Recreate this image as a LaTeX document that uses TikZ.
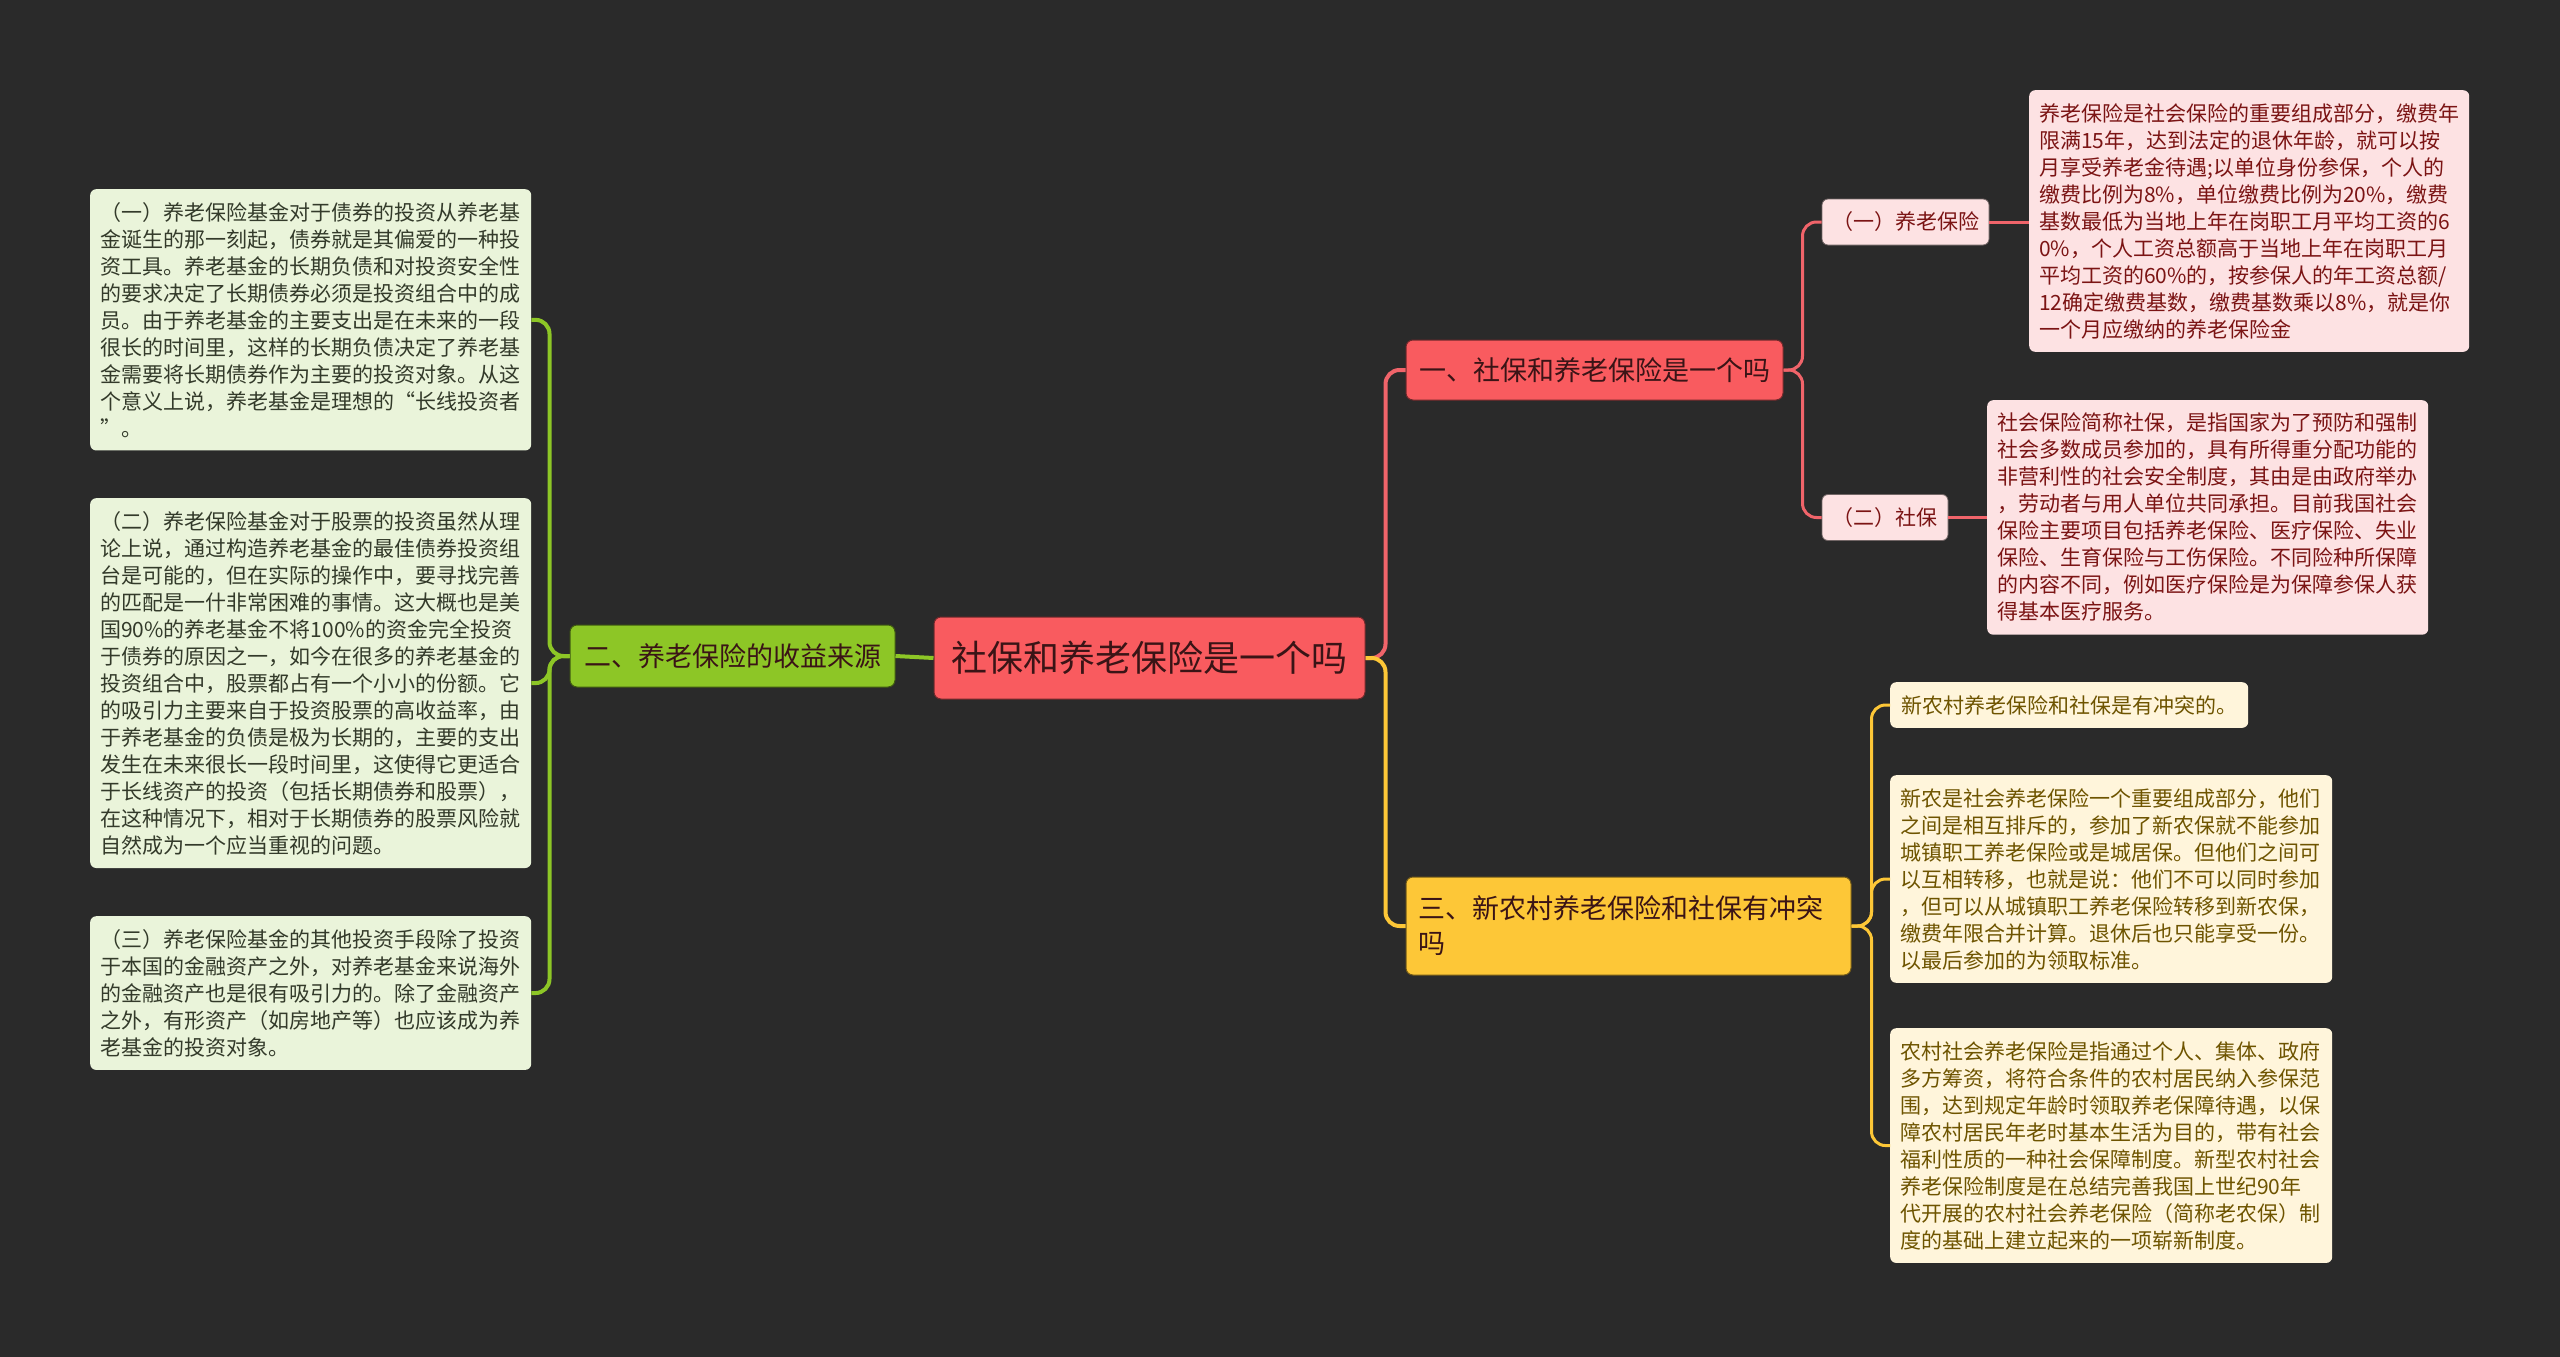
\documentclass[tikz,border=0pt]{standalone}
\usepackage{fontspec}
\setmainfont{Noto Sans CJK SC}
\usepackage{tikz}

\definecolor{bg}{HTML}{2A2A2A}
\definecolor{rootred}{HTML}{F95B5F}
\definecolor{brgreen}{HTML}{8DC626}
\definecolor{bryellow}{HTML}{FDC737}
\definecolor{gleaf}{HTML}{EAF4DA}
\definecolor{pleaf}{HTML}{FDE2E3}
\definecolor{yleaf}{HTML}{FFF5DB}
\definecolor{gtext}{HTML}{333A2A}
\definecolor{ptext}{HTML}{7B1414}
\definecolor{ytext}{HTML}{6E5400}
\definecolor{darktext}{HTML}{3A1416}
\definecolor{lred}{HTML}{F0646A}

\begin{document}
\begin{tikzpicture}[x=1pt,y=-1pt,
    topic/.style={rounded corners=7pt, fill=#1, draw=#1!45!black, line width=1pt, inner sep=0pt},
    sub/.style={rounded corners=6pt, fill=pleaf, draw=pleaf!45!black, line width=0.8pt, inner sep=0pt,
      text=ptext, font=\fontsize{21pt}{27pt}\selectfont, minimum height=46pt},
    leaf/.style={anchor=north west, rounded corners=6pt, fill=#1, inner xsep=10pt, inner ysep=13pt,
      align=left, font=\fontsize{21pt}{27pt}\selectfont},
    link/.style={draw=#1, line width=4pt, rounded corners=14pt},
  ]
  \fill[bg] (0,0) rectangle (2560,1357);

  % centre and first level
  \node[topic=rootred, minimum width=431pt, minimum height=82pt, text=darktext,
    font=\fontsize{36pt}{44pt}\selectfont] (root) at (1149.5,658) {社保和养老保险是一个吗};
  \node[topic=brgreen, minimum width=325pt, minimum height=62pt, text=darktext,
    font=\fontsize{27pt}{34pt}\selectfont] (income) at (732.5,656) {二、养老保险的收益来源};
  \node[topic=rootred, minimum width=377pt, minimum height=60pt, text=darktext,
    font=\fontsize{27pt}{34pt}\selectfont] (same) at (1594.5,370) {一、社保和养老保险是一个吗};
  \node[topic=bryellow, text width=421pt, inner xsep=12pt, minimum height=98pt, align=left, text=darktext,
    font=\fontsize{27pt}{35pt}\selectfont] (conflict) at (1628.5,926) {三、新农村养老保险和社保有冲突\\吗};

  % second level
  \node[sub, minimum width=167pt] (pension) at (1905.5,222) {（一）养老保险};
  \node[sub, minimum width=126pt] (shebao) at (1885,517.5) {（二）社保};

  % green leaves
  \node[leaf=gleaf, text=gtext, text width=421pt] (bonds) at (90,189) {%
（一）养老保险基金对于债券的投资从养老基\\
金诞生的那一刻起，债券就是其偏爱的一种投\\
资工具。养老基金的长期负债和对投资安全性\\
的要求决定了长期债券必须是投资组合中的成\\
员。由于养老基金的主要支出是在未来的一段\\
很长的时间里，这样的长期负债决定了养老基\\
金需要将长期债券作为主要的投资对象。从这\\
个意义上说，养老基金是理想的“长线投资者\\
”。};
  \node[leaf=gleaf, text=gtext, text width=421pt] (stocks) at (90,498) {%
（二）养老保险基金对于股票的投资虽然从理\\
论上说，通过构造养老基金的最佳债券投资组\\
台是可能的，但在实际的操作中，要寻找完善\\
的匹配是一什非常困难的事情。这大概也是美\\
国90\%的养老基金不将100\%的资金完全投资\\
于债券的原因之一，如今在很多的养老基金的\\
投资组合中，股票都占有一个小小的份额。它\\
的吸引力主要来自于投资股票的高收益率，由\\
于养老基金的负债是极为长期的，主要的支出\\
发生在未来很长一段时间里，这使得它更适合\\
于长线资产的投资（包括长期债券和股票），\\
在这种情况下，相对于长期债券的股票风险就\\
自然成为一个应当重视的问题。};
  \node[leaf=gleaf, text=gtext, text width=421pt] (others) at (90,916) {%
（三）养老保险基金的其他投资手段除了投资\\
于本国的金融资产之外，对养老基金来说海外\\
的金融资产也是很有吸引力的。除了金融资产\\
之外，有形资产（如房地产等）也应该成为养\\
老基金的投资对象。};

  % pink leaves
  \node[leaf=pleaf, text=ptext, text width=420pt] (pensiontxt) at (2029,90) {%
养老保险是社会保险的重要组成部分，缴费年\\
限满15年，达到法定的退休年龄，就可以按\\
月享受养老金待遇;以单位身份参保，个人的\\
缴费比例为8\%，单位缴费比例为20\%，缴费\\
基数最低为当地上年在岗职工月平均工资的6\\
0\%，个人工资总额高于当地上年在岗职工月\\
平均工资的60\%的，按参保人的年工资总额/\\
12确定缴费基数，缴费基数乘以8\%，就是你\\
一个月应缴纳的养老保险金};
  \node[leaf=pleaf, text=ptext, text width=421pt] (shebaotxt) at (1987,400) {%
社会保险简称社保，是指国家为了预防和强制\\
社会多数成员参加的，具有所得重分配功能的\\
非营利性的社会安全制度，其由是由政府举办\\
，劳动者与用人单位共同承担。目前我国社会\\
保险主要项目包括养老保险、医疗保险、失业\\
保险、生育保险与工伤保险。不同险种所保障\\
的内容不同，例如医疗保险是为保障参保人获\\
得基本医疗服务。};

  % yellow leaves
  \node[leaf=yleaf, text=ytext, inner xsep=11pt] (yes) at (1890,682) {新农村养老保险和社保是有冲突的。};
  \node[leaf=yleaf, text=ytext, text width=422pt] (xinnong) at (1890,775) {%
新农是社会养老保险一个重要组成部分，他们\\
之间是相互排斥的，参加了新农保就不能参加\\
城镇职工养老保险或是城居保。但他们之间可\\
以互相转移，也就是说：他们不可以同时参加\\
，但可以从城镇职工养老保险转移到新农保，\\
缴费年限合并计算。退休后也只能享受一份。\\
以最后参加的为领取标准。};
  \node[leaf=yleaf, text=ytext, text width=422pt] (nongcun) at (1890,1028) {%
农村社会养老保险是指通过个人、集体、政府\\
多方筹资，将符合条件的农村居民纳入参保范\\
围，达到规定年龄时领取养老保障待遇，以保\\
障农村居民年老时基本生活为目的，带有社会\\
福利性质的一种社会保障制度。新型农村社会\\
养老保险制度是在总结完善我国上世纪90年\\
代开展的农村社会养老保险（简称老农保）制\\
度的基础上建立起来的一项崭新制度。};

  % connectors
  \draw[link=brgreen] (root.west) -- (income.east);
  \draw[link=brgreen] (income.west) -- ++(-20,0) |- (bonds.east);
  \draw[link=brgreen] (income.west) -- ++(-20,0) |- (stocks.east);
  \draw[link=brgreen] (income.west) -- ++(-20,0) |- (others.east);
  \draw[link=lred] (root.east) -- ++(20,0) |- (same.west);
  \draw[link=bryellow] (root.east) -- ++(20,0) |- (conflict.west);
  \draw[link=lred, line width=3pt] (same.east) -- ++(19,0) |- (pension.west);
  \draw[link=lred, line width=3pt] (same.east) -- ++(19,0) |- (shebao.west);
  \draw[link=lred, line width=3pt] (pension.east) -- (pension.east -| pensiontxt.west);
  \draw[link=lred, line width=3pt] (shebao.east) -- (shebao.east -| shebaotxt.west);
  \draw[link=bryellow, line width=3pt] (conflict.east) -- ++(20,0) |- (yes.west);
  \draw[link=bryellow, line width=3pt] (conflict.east) -- ++(20,0) |- (xinnong.west);
  \draw[link=bryellow, line width=3pt] (conflict.east) -- ++(20,0) |- (nongcun.west);
\end{tikzpicture}
\end{document}
